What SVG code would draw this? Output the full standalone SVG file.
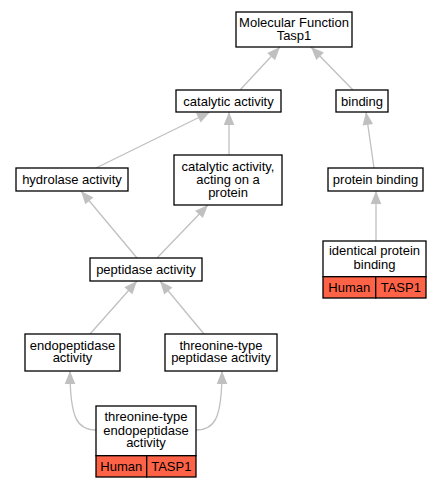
<svg xmlns="http://www.w3.org/2000/svg" width="441" height="488" viewBox="0 0 441 488">
<style>
.box{fill:#ffffff;stroke:#000000;stroke-width:1.3}
.red{fill:#ff6347;stroke:#000000;stroke-width:1.3}
text{font-family:"Liberation Sans",Arial,sans-serif;font-size:13px;fill:#000000;text-anchor:middle}
.edge{fill:none;stroke:#c0c0c0;stroke-width:1.3;marker-end:url(#arr)}
</style>
<defs>
<marker id="arr" markerUnits="userSpaceOnUse" markerWidth="14" markerHeight="12" refX="13" refY="6" orient="auto" overflow="visible">
<path d="M0,0.7 L13,6 L0,11.3 z" fill="#c0c0c0"/>
</marker>
</defs>
<rect width="441" height="488" fill="#ffffff"/>
<g id="edges">
<path class="edge" d="M240,90 L280,47"/>
<path class="edge" d="M353,90 L311,47"/>
<path class="edge" d="M96,168 L210,112"/>
<path class="edge" d="M229,155 L229,112"/>
<path class="edge" d="M374,168 L366,112"/>
<path class="edge" d="M376,241 L376,191"/>
<path class="edge" d="M137,258 L81,191"/>
<path class="edge" d="M157,258 L208,205"/>
<path class="edge" d="M90,334 L137,281"/>
<path class="edge" d="M204,334 L160,281"/>
<path class="edge" d="M96,430 C78,430 70,420 70,371"/>
<path class="edge" d="M196,430 C214,430 222,420 222,371"/>
</g>
<g id="n_mf">
<rect class="box" x="236" y="12" width="116" height="35"/>
<text x="294" y="26.8">Molecular Function</text>
<text x="294" y="40">Tasp1</text>
</g>
<g id="n_catalytic">
<rect class="box" x="176" y="90" width="105" height="22"/>
<text x="228.5" y="105.6">catalytic activity</text>
</g>
<g id="n_binding">
<rect class="box" x="336" y="90" width="52" height="22"/>
<text x="362" y="105.6">binding</text>
</g>
<g id="n_hydrolase">
<rect class="box" x="16" y="168" width="112" height="23"/>
<text x="72" y="184">hydrolase activity</text>
</g>
<g id="n_cat_protein">
<rect class="box" x="174" y="155" width="108" height="50"/>
<text x="228" y="170.6">catalytic activity,</text>
<text x="228" y="184">acting on a</text>
<text x="228" y="197.3">protein</text>
</g>
<g id="n_protein_binding">
<rect class="box" x="328" y="168" width="95" height="23"/>
<text x="375.5" y="184">protein binding</text>
</g>
<g id="n_peptidase">
<rect class="box" x="90" y="258" width="112" height="23"/>
<text x="146" y="274">peptidase activity</text>
</g>
<g id="n_identical">
<rect class="box" x="323" y="241" width="103" height="35.7"/>
<rect class="red" x="323" y="276.7" width="52.7" height="21.3"/>
<rect class="red" x="375.7" y="276.7" width="50.3" height="21.3"/>
<text x="374.5" y="255.3">identical protein</text>
<text x="374.5" y="268.6">binding</text>
<text x="349.3" y="292">Human</text>
<text x="400.8" y="292">TASP1</text>
</g>
<g id="n_endopeptidase">
<rect class="box" x="25" y="334" width="95" height="37"/>
<text x="72.5" y="349.6">endopeptidase</text>
<text x="72.5" y="362.4">activity</text>
</g>
<g id="n_thr_peptidase">
<rect class="box" x="165" y="334" width="112" height="37"/>
<text x="221" y="349.6">threonine-type</text>
<text x="221" y="362.4">peptidase activity</text>
</g>
<g id="n_thr_endopeptidase">
<rect class="box" x="96" y="406" width="100" height="49.7"/>
<rect class="red" x="96" y="455.7" width="50.7" height="21.3"/>
<rect class="red" x="146.7" y="455.7" width="49.3" height="21.3"/>
<text x="146" y="421.3">threonine-type</text>
<text x="146" y="434.6">endopeptidase</text>
<text x="146" y="447.2">activity</text>
<text x="121.3" y="470.5">Human</text>
<text x="171.3" y="470.5">TASP1</text>
</g>
</svg>
